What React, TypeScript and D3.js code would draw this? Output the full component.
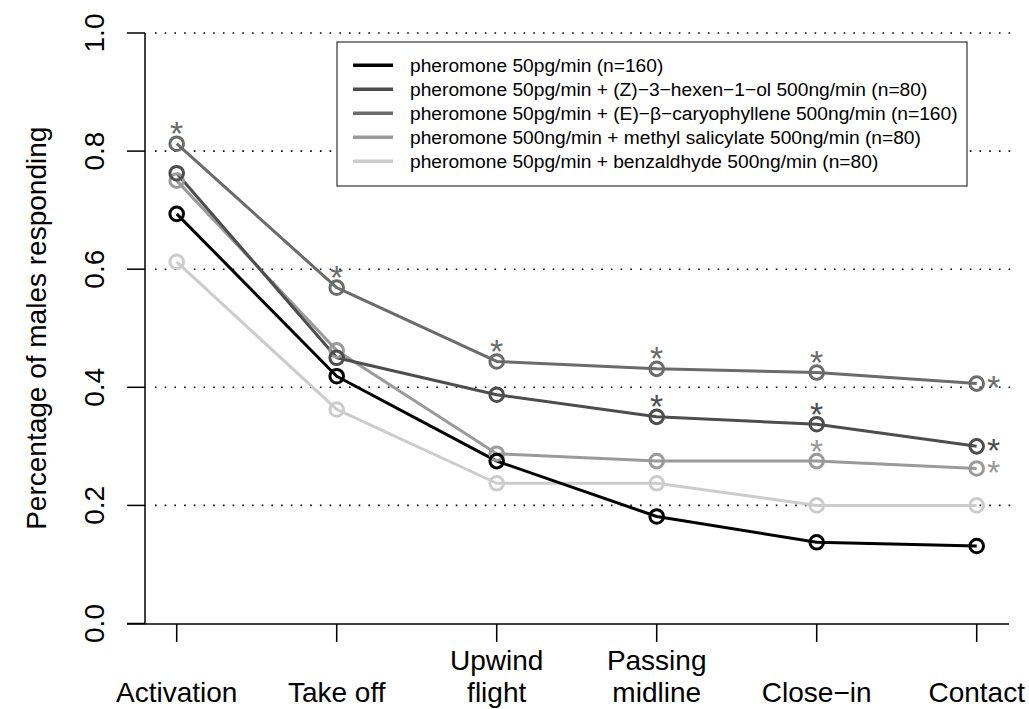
import React from "react";
import * as d3 from "d3";

const categories: string[][] = [
  ["Activation"],
  ["Take off"],
  ["Upwind", "flight"],
  ["Passing", "midline"],
  ["Close\u2212in"],
  ["Contact"],
];

const seriesNames = [
  "pheromone 50pg/min (n=160)",
  "pheromone 50pg/min + (Z)\u22123\u2212hexen\u22121\u2212ol 500ng/min (n=80)",
  "pheromone 50pg/min + (E)\u2212\u03b2\u2212caryophyllene 500ng/min (n=160)",
  "pheromone 500ng/min + methyl salicylate 500ng/min (n=80)",
  "pheromone 50pg/min + benzaldhyde 500ng/min (n=80)",
];

const pheromone = [0.69375, 0.41875, 0.275, 0.18125, 0.1375, 0.13125];
const hexenol = [0.7625, 0.45, 0.3875, 0.35, 0.3375, 0.3];
const caryophyllene = [0.8125, 0.56875, 0.44375, 0.43125, 0.425, 0.40625];
const methylSalicylate = [0.75, 0.4625, 0.2875, 0.275, 0.275, 0.2625];
const benzaldehyde = [0.6125, 0.3625, 0.2375, 0.2375, 0.2, 0.2];

// significance markers: "a" = above the point, "r" = right of the point, "" = none
const sigPheromone = ["", "", "", "", "", ""];
const sigHexenol = ["", "", "", "a", "a", "r"];
const sigCaryophyllene = ["a", "a", "a", "a", "a", "r"];
const sigMethylSalicylate = ["", "", "", "", "a", "r"];
const sigBenzaldehyde = ["", "", "", "", "", ""];

const yTicks = [0, 0.2, 0.4, 0.6, 0.8, 1.0];
const gridValues = [0.2, 0.4, 0.6, 0.8, 1.0];

const colors = ["#000000", "#4d4d4d", "#6b6b6b", "#9a9a9a", "#cccccc"];
const drawOrder = [4, 3, 2, 1, 0];

export default function App() {
  const width = 1029;
  const height = 709;
  const x = d3.scaleLinear().domain([0, 5]).range([176.7, 976.7]);
  const y = d3.scaleLinear().domain([0, 1]).range([623.5, 33]);
  const values = [pheromone, hexenol, caryophyllene, methylSalicylate, benzaldehyde];
  const sigs = [sigPheromone, sigHexenol, sigCaryophyllene, sigMethylSalicylate, sigBenzaldehyde];
  const line = d3
    .line<number>()
    .x((_, i) => x(i))
    .y((d) => y(d));
  const font = "Liberation Sans, Arial, Helvetica, sans-serif";
  const axisY = 624;
  const axisX = 145;

  return (
    <svg
      width={width}
      height={height}
      style={{ position: "absolute", left: 0, top: 0, display: "block", background: "#fff" }}
      fontFamily={font}
    >
      <rect x={0} y={0} width={width} height={height} fill="#fff" />
      {/* grid */}
      {gridValues.map((g) => (
        <line
          key={"g" + g}
          x1={155}
          x2={1012}
          y1={y(g)}
          y2={y(g)}
          stroke="#000"
          strokeWidth={1.6}
          strokeDasharray="1.6 8.1"
        />
      ))}
      {/* y axis */}
      <line x1={axisX} x2={axisX} y1={y(1)} y2={axisY} stroke="#000" strokeWidth={1.5} />
      {yTicks.map((t) => (
        <g key={"yt" + t}>
          <line x1={axisX - 18} x2={axisX} y1={y(t)} y2={y(t)} stroke="#000" strokeWidth={1.5} />
          <text
            transform={`translate(${104},${y(t)}) rotate(-90)`}
            textAnchor="middle"
            fontSize={28}
            fill="#000"
          >
            {t.toFixed(1)}
          </text>
        </g>
      ))}
      <text
        transform={`translate(${46},${(y(0) + y(1)) / 2}) rotate(-90)`}
        textAnchor="middle"
        fontSize={28}
        fill="#000"
      >
        Percentage of males responding
      </text>
      {/* x axis */}
      <line x1={127} x2={1009} y1={axisY} y2={axisY} stroke="#000" strokeWidth={1.5} />
      {categories.map((c, i) => (
        <g key={"xc" + i}>
          <line x1={x(i)} x2={x(i)} y1={axisY} y2={axisY + 18} stroke="#000" strokeWidth={1.5} />
          {c.map((ln, j) => (
            <text
              key={j}
              x={x(i)}
              y={702 - (c.length - 1 - j) * 32}
              textAnchor="middle"
              fontSize={28}
              fill="#000"
            >
              {ln}
            </text>
          ))}
        </g>
      ))}
      {/* series lines */}
      {drawOrder.map((s) => (
        <path
          key={"l" + s}
          d={line(values[s]) || ""}
          fill="none"
          stroke={colors[s]}
          strokeWidth={3}
          strokeLinejoin="round"
        />
      ))}
      {/* points */}
      {drawOrder.map((s) => (
        <g key={"p" + s}>
          {values[s].map((v, i) => (
            <circle
              key={i}
              cx={x(i)}
              cy={y(v)}
              r={6.8}
              fill="none"
              stroke={colors[s]}
              strokeWidth={3}
            />
          ))}
        </g>
      ))}
      {/* significance asterisks */}
      {drawOrder.map((s) => (
        <g key={"s" + s}>
          {sigs[s].map((m, i) => {
            if (!m) return null;
            const px = x(i);
            const py = y(values[s][i]);
            const cx = m === "a" ? px : px + 17;
            const cy = m === "a" ? py - 18 : py - 4;
            return (
              <text
                key={i}
                x={cx}
                y={cy + 19.5}
                textAnchor="middle"
                fontSize={34}
                fill={colors[s]}
              >
                *
              </text>
            );
          })}
        </g>
      ))}
      {/* legend */}
      <rect x={337} y={42} width={630} height={144} fill="#fff" stroke="#333" strokeWidth={1.2} />
      {seriesNames.map((n, i) => (
        <g key={"lg" + i}>
          <line
            x1={353}
            x2={393}
            y1={65.3 + 24 * i}
            y2={65.3 + 24 * i}
            stroke={colors[i]}
            strokeWidth={3.5}
          />
          <text x={410} y={65.3 + 24 * i + 6.7} fontSize={19.2} fill="#000">
            {n}
          </text>
        </g>
      ))}
    </svg>
  );
}
